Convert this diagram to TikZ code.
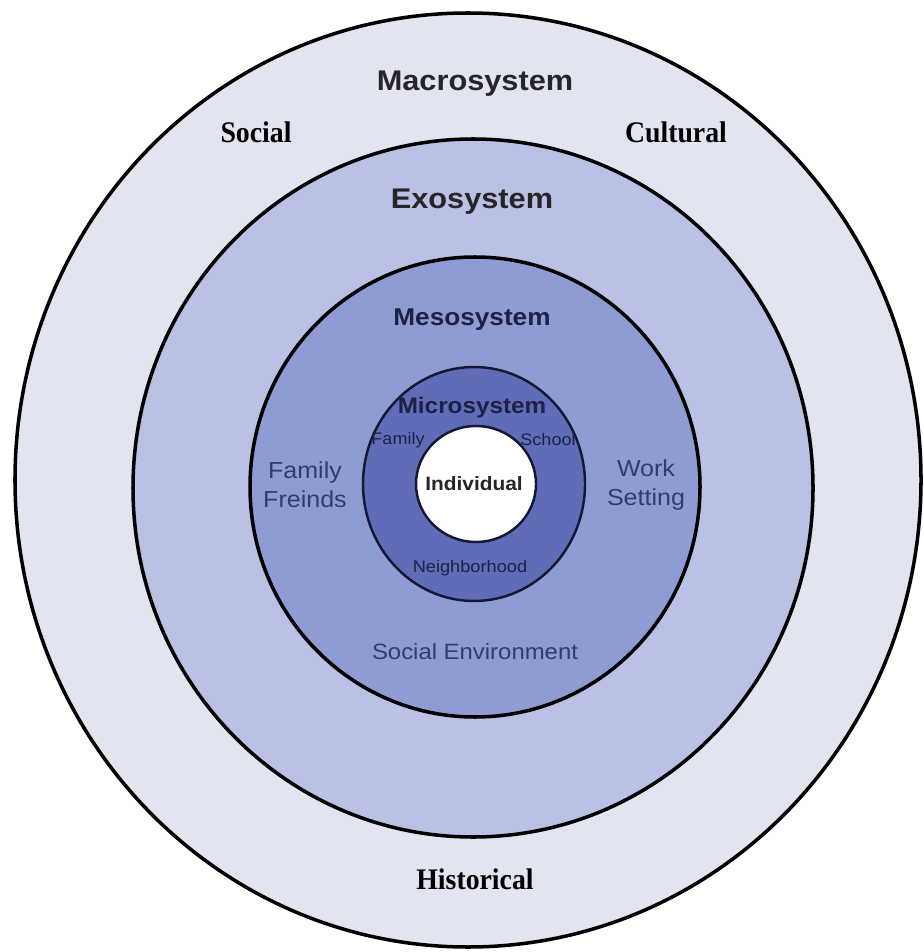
\documentclass[tikz,border=0pt]{standalone}
\usepackage{fontspec}
\setmainfont[FakeStretch=0.93]{Liberation Serif}
\newfontfamily\widesans[FakeStretch=1.08]{Liberation Sans}
\definecolor{macrofill}{RGB}{226,228,240}
\definecolor{exofill}{RGB}{187,193,228}
\definecolor{mesofill}{RGB}{143,156,211}
\definecolor{microfill}{RGB}{96,108,184}
\definecolor{navytext}{RGB}{28,34,70}
\definecolor{slatetext}{RGB}{50,60,108}
\definecolor{greytext}{RGB}{38,38,42}
\definecolor{ringline}{RGB}{20,24,50}

\tikzset{
	ring/.style={draw=black, line width=2pt},
	thinring/.style={draw=ringline, line width=1.4pt},
	sysname/.style={font=\widesans\bfseries\fontsize{#1}{#1}\selectfont, inner sep=0pt},
	placename/.style={font=\widesans\fontsize{#1}{16.5}\selectfont, text=slatetext, align=center, inner sep=0pt},
	forcename/.style={font=\bfseries\fontsize{17}{19}\selectfont, text=black, inner sep=0pt}
}

\begin{document}
\begin{tikzpicture}[x=0.02cm, y=-0.02cm]
	\useasboundingbox[fill=white] (0,0) rectangle (923,952);

	\coordinate (macro) at (468,480);
	\coordinate (exo) at (473,488);
	\coordinate (meso) at (475,487);
	\coordinate (micro) at (474,484);
	\coordinate (indiv) at (476,484);

	% rings, from outside in
	\draw[ring, fill=macrofill] (macro) ellipse [x radius=453, y radius=467];
	\draw[ring, fill=exofill] (exo) ellipse [x radius=340, y radius=349];
	\draw[ring, fill=mesofill] (meso) ellipse [x radius=225, y radius=230];
	\draw[thinring, fill=microfill] (micro) ellipse [x radius=111, y radius=117];
	\draw[thinring, fill=white] (indiv) ellipse [x radius=60, y radius=58];

	% macrosystem
	\node[sysname=16.2, text=greytext] (macrolabel) at (475,84) {Macrosystem};
	\node[forcename] (social) at (256,132) {Social};
	\node[forcename] (cultural) at (676,132) {Cultural};
	\node[forcename] (historical) at (475,879) {Historical};

	% exosystem
	\node[sysname=16.2, text=greytext] (exolabel) at (472,202) {Exosystem};

	% mesosystem
	\node[sysname=13.8, text=navytext] (mesolabel) at (472,320) {Mesosystem};
	\node[placename=13.2] (friends) at (305,485) {Family\\Freinds};
	\node[placename=13.2] (work) at (646,485) {Work\\Setting};
	\node[placename=12.6] (socialenv) at (475,652) {Social Environment};

	% microsystem
	\node[sysname=12.8, text=navytext] (microlabel) at (472,408) {Microsystem};
	\node[placename=9.5, text=navytext] (family) at (398,440) {Family};
	\node[placename=9.5, text=navytext] (school) at (548,440) {School};
	\node[placename=9.6, text=navytext] (neighbor) at (470,568) {Neighborhood};

	\node[sysname=11, text=black!85] (indivlabel) at (474,484) {Individual};
\end{tikzpicture}
\end{document}
